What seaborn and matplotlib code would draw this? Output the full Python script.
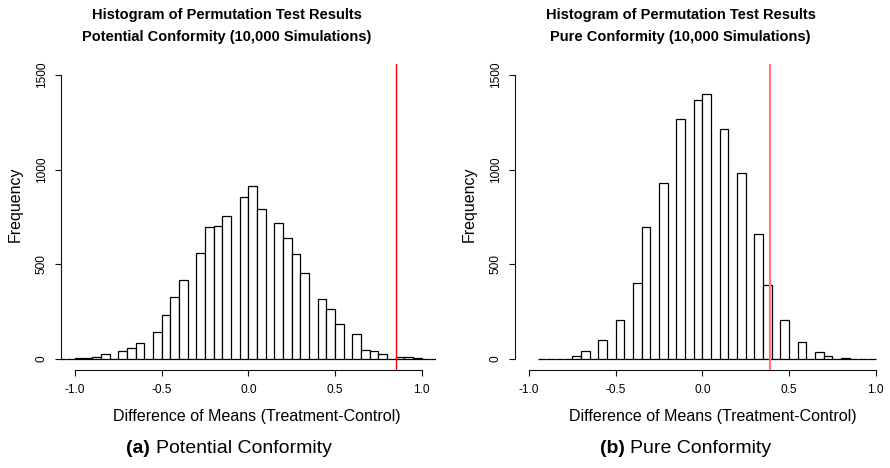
import numpy as np
import pandas as pd
import matplotlib
matplotlib.use("Agg")
import matplotlib.pyplot as plt
import seaborn as sns

# ---------------- data ----------------
bin_width = 0.05

# Potential conformity: bins start at -1.10 (lower edges -1.10 ... 1.05)
left_first_edge = -1.10
left_counts = [0, 1, 5, 7, 12, 25, 0, 40, 58, 85, 0, 143, 230, 327, 417, 0,
               558, 695, 700, 755, 0, 855, 915, 790, 0, 717, 638, 555, 453, 0,
               317, 264, 183, 0, 130, 49, 40, 25, 0, 12, 9, 4, 1, 0]

# Pure conformity: bins start at -0.95 (lower edges -0.95 ... 0.95)
right_first_edge = -0.95
right_counts = [0, 0, 0, 2, 15, 40, 0, 103, 0, 206, 0, 399, 695, 0, 928, 0,
                1269, 0, 1368, 1398, 0, 1213, 0, 982, 0, 662, 389, 0, 206, 0,
                88, 0, 36, 14, 0, 5, 0, 0, 0]

left_observed = 0.854
right_observed = 0.389

title_line1 = "Histogram of Permutation Test Results"
left_title2 = "Potential Conformity (10,000 Simulations)"
right_title2 = "Pure Conformity (10,000 Simulations)"
x_label = "Difference of Means (Treatment-Control)"
y_label = "Frequency"
x_ticks = [-1.0, -0.5, 0.0, 0.5, 1.0]
x_ticklabels = ["-1.0", "-0.5", "0.0", "0.5", "1.0"]
y_ticks = [0, 500, 1000, 1500]
y_ticklabels = ["0", "500", "1000", "1500"]
caption_tags = ["(a)", "(b)"]
caption_texts = ["Potential Conformity", "Pure Conformity"]

# ---------------- style ----------------
sns.set_style("white")
plt.rcParams["font.family"] = ["Liberation Sans", "DejaVu Sans"]
plt.rcParams["axes.unicode_minus"] = False
plt.rcParams["text.color"] = "black"
plt.rcParams["axes.labelcolor"] = "black"
plt.rcParams["xtick.color"] = "black"
plt.rcParams["ytick.color"] = "black"

W, H = 890, 468
fig = plt.figure(figsize=(W / 100, H / 100), dpi=100)


def fx(x):
    return x / W


def fy(y):
    return 1 - y / H


panels = [
    dict(counts=left_counts, first=left_first_edge, obs=left_observed,
         red="#ff0000", red_lw=1.0, ax_left=61.1, title2=left_title2,
         title_cx=226.5, xlabel_cx=257.2, ylabel_cx=15.0,
         tag=caption_tags[0], cap=caption_texts[0], tag_right=150.0),
    dict(counts=right_counts, first=right_first_edge, obs=right_observed,
         red="#ff7a7a", red_lw=1.6, ax_left=515.1, title2=right_title2,
         title_cx=680.5, xlabel_cx=712.8, ylabel_cx=469.0,
         tag=caption_tags[1], cap=caption_texts[1], tag_right=625.0),
]

ax_top, ax_bottom = 63.6, 370.4
ax_width = 374.4

for p in panels:
    n = len(p["counts"])
    edges = [round(p["first"] + bin_width * i, 3) for i in range(n + 1)]
    centers = [round((edges[i] + edges[i + 1]) / 2, 4) for i in range(n)]
    df = pd.DataFrame({"diff": centers, "count": p["counts"]})

    ax = fig.add_axes([fx(p["ax_left"]), fy(ax_bottom), ax_width / W,
                       (ax_bottom - ax_top) / H])
    sns.histplot(data=df, x="diff", weights="count", bins=edges, ax=ax,
                 color="white", edgecolor="black", linewidth=0.9, alpha=1,
                 fill=True)
    ax.axvline(p["obs"], color=p["red"], lw=p["red_lw"], zorder=5)

    ax.set_xlim(-1.08, 1.08)
    ax.set_ylim(-60, 1560)
    ax.set_xlabel("")
    ax.set_ylabel("")

    for s in ["top", "right"]:
        ax.spines[s].set_visible(False)
    for s in ["left", "bottom"]:
        ax.spines[s].set_color("#111111")
        ax.spines[s].set_linewidth(0.8)
    ax.spines["left"].set_bounds(0, 1500)
    ax.spines["bottom"].set_bounds(-1.0, 1.0)

    ax.set_xticks(x_ticks, x_ticklabels)
    ax.set_yticks(y_ticks, y_ticklabels)
    ax.tick_params(bottom=True, left=True, direction="out", length=4,
                   width=0.8, color="#111111", labelsize=8.6,
                   labelcolor="black")
    ax.tick_params(axis="x", pad=6.0)
    ax.tick_params(axis="y", pad=5.5)
    for lbl in ax.get_yticklabels():
        lbl.set_rotation(90)
        lbl.set_va("center")

    # titles
    fig.text(fx(p["title_cx"]), fy(19.5), title_line1, ha="center",
             va="baseline", fontsize=10.5, fontweight="bold", color="black")
    fig.text(fx(p["title_cx"]), fy(40.8), p["title2"], ha="center",
             va="baseline", fontsize=10.5, fontweight="bold", color="black")

    # axis labels
    fig.text(fx(p["xlabel_cx"]), fy(421.0), x_label, ha="center",
             va="baseline", fontsize=11.5, color="black")
    fig.text(fx(p["ylabel_cx"]), fy(204.0), y_label, ha="center",
             va="center", rotation=90, fontsize=11.5, color="black")

    # sub-caption
    fig.text(fx(p["tag_right"]), fy(453.3), p["tag"], ha="right",
             va="baseline", fontsize=14, fontweight="bold", color="black")
    fig.text(fx(p["tag_right"] + 5.5), fy(453.3), p["cap"], ha="left",
             va="baseline", fontsize=14, color="black")

fig.savefig("out.png", dpi=100)
